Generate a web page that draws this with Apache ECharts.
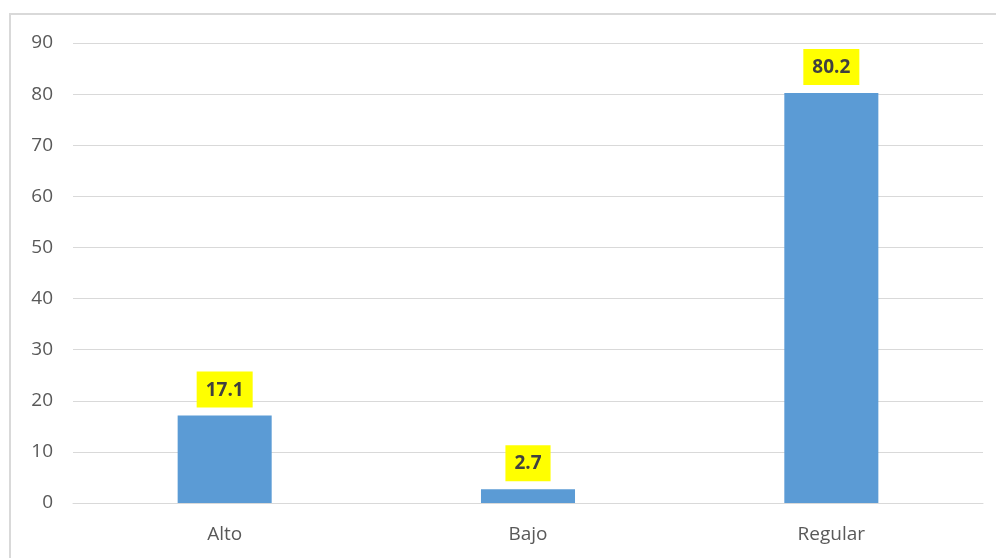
<!DOCTYPE html>
<html>
<head>
<meta charset="utf-8">
<script src="https://cdn.jsdelivr.net/npm/echarts@6/dist/echarts.min.js"></script>
<style>
  html, body { margin: 0; padding: 0; background: #fff; }
  #chart { width: 996px; height: 558px; }
</style>
</head>
<body>
<div id="chart"></div>
<script>
let categories = ['Alto', 'Bajo', 'Regular']
let values = [17.1, 2.7, 80.2]
let yTicks = {min: 0, max: 90, interval: 10}

let chart = echarts.init(document.getElementById('chart'))

chart.setOption({
    animation: false,
    graphic: [{
        type: 'rect',
        shape: {x: 10, y: 14, width: 1000, height: 600},
        style: {fill: 'none', stroke: '#d9d9d9', lineWidth: 2},
        silent: true
    }],
    grid: {left: 73, right: 13, top: 43, bottom: 55},
    xAxis: {
        type: 'category',
        data: categories,
        axisLine: {lineStyle: {color: '#d9d9d9', width: 1}},
        axisTick: {show: false},
        axisLabel: {color: '#595959', fontSize: 19, fontFamily: 'Open Sans', margin: 22}
    },
    yAxis: {
        type: 'value',
        min: yTicks.min,
        max: yTicks.max,
        interval: yTicks.interval,
        axisLine: {show: false},
        axisTick: {show: false},
        splitLine: {lineStyle: {color: '#d9d9d9', width: 1}},
        axisLabel: {color: '#595959', fontSize: 19, fontFamily: 'Open Sans', margin: 20}
    },
    series: [{
        type: 'bar',
        data: values,
        barWidth: '31%',
        itemStyle: {color: '#5b9bd5'},
        label: {
            show: true,
            position: 'top',
            distance: 8,
            color: '#404040',
            fontWeight: 'bold',
            fontSize: 19,
            fontFamily: 'Open Sans',
            backgroundColor: '#ffff00',
            padding: [9, 9, 8, 9],
            formatter: p => p.value.toFixed(1)
        }
    }]
})
</script>
</body>
</html>
